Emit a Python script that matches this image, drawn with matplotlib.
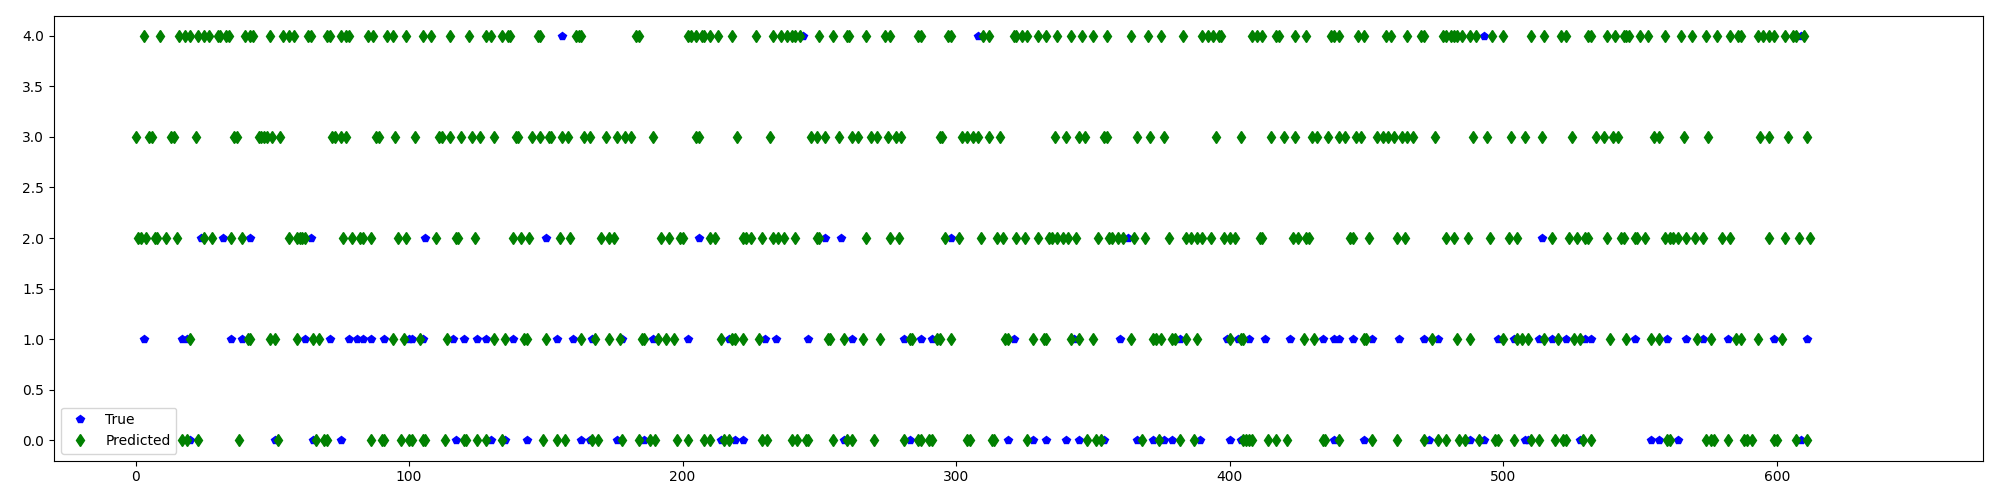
import matplotlib
matplotlib.use('Agg')
import matplotlib.pyplot as plt
import numpy as np

# indices (sample number) where the predicted class is shown, per class
pred_4 = [3, 9, 16, 18, 20, 23, 25, 27, 30, 31, 33, 34, 40, 42, 43, 49, 54, 56, 58,
          63, 64, 70, 71, 75, 77, 78, 85, 87, 92, 94, 99, 105, 108, 115, 122, 128,
          130, 134, 136, 137, 147, 148, 161, 162, 163, 183, 184, 202, 203, 205, 207,
          208, 210, 213, 218, 227, 233, 236, 238, 240, 241, 243, 250, 255, 260, 261,
          267, 274, 276, 286, 287, 297, 298, 310, 312, 321, 322, 324, 326, 330, 333,
          337, 342, 346, 350, 355, 364, 370, 375, 383, 390, 392, 394, 396, 397, 408,
          410, 412, 417, 418, 424, 428, 437, 438, 440, 447, 449, 457, 459, 465, 470,
          471, 478, 479, 481, 482, 483, 485, 488, 490, 496, 500, 510, 515, 521, 523,
          531, 532, 538, 541, 544, 545, 546, 550, 553, 559, 565, 569, 574, 578, 583,
          586, 587, 593, 595, 597, 599, 603, 606, 607, 610]
pred_3 = [0, 5, 6, 13, 14, 22, 36, 37, 45, 46, 47, 48, 50, 53, 72, 73, 75, 77, 88,
          89, 95, 102, 111, 112, 115, 119, 123, 126, 131, 139, 140, 145, 148, 151,
          152, 156, 158, 164, 166, 172, 176, 179, 181, 189, 205, 206, 220, 232, 247,
          249, 252, 257, 262, 264, 269, 271, 275, 278, 280, 294, 295, 302, 304, 306,
          308, 312, 316, 336, 340, 345, 347, 354, 355, 366, 371, 376, 395, 404, 415,
          420, 424, 430, 432, 436, 440, 442, 446, 448, 454, 456, 458, 460, 463, 465,
          467, 475, 489, 494, 503, 508, 514, 525, 534, 537, 540, 542, 555, 557, 566,
          575, 594, 597, 604, 611]
pred_2 = [1, 2, 4, 7, 8, 11, 15, 25, 28, 35, 39, 56, 59, 60, 61, 62, 76, 79, 82, 83,
          86, 96, 99, 110, 117, 118, 124, 138, 141, 144, 155, 159, 170, 173, 175, 192,
          195, 199, 200, 210, 212, 222, 223, 225, 229, 233, 235, 237, 241, 249, 250,
          267, 276, 279, 296, 301, 309, 315, 317, 322, 325, 330, 334, 335, 337, 339,
          341, 344, 352, 356, 357, 359, 361, 365, 369, 378, 384, 386, 388, 390, 393,
          398, 400, 402, 411, 412, 423, 425, 428, 429, 444, 445, 451, 461, 464, 479,
          482, 487, 495, 502, 505, 518, 524, 527, 530, 531, 538, 543, 544, 548, 549,
          552, 559, 561, 562, 564, 567, 570, 573, 580, 583, 597, 603, 608, 612]
pred_1 = [20, 41, 42, 49, 51, 59, 65, 67, 94, 98, 104, 114, 131, 135, 142, 143, 150,
          163, 168, 173, 177, 185, 186, 191, 194, 197, 214, 218, 219, 222, 228, 253,
          254, 259, 266, 272, 283, 284, 293, 294, 298, 318, 319, 328, 332, 333, 342,
          345, 350, 364, 372, 373, 375, 379, 380, 384, 388, 400, 404, 405, 427, 431,
          449, 450, 474, 483, 488, 500, 505, 507, 509, 515, 520, 526, 528, 539, 545,
          554, 557, 571, 576, 585, 587, 593, 602]
pred_0 = [17, 19, 23, 38, 52, 66, 69, 70, 86, 90, 91, 97, 100, 101, 105, 106, 113,
          120, 121, 125, 128, 134, 149, 154, 157, 167, 169, 178, 184, 188, 190, 198,
          202, 208, 210, 215, 217, 229, 231, 240, 242, 245, 246, 255, 260, 262, 270,
          281, 286, 287, 290, 291, 304, 305, 313, 314, 326, 348, 351, 353, 368, 374,
          382, 387, 405, 406, 407, 408, 414, 417, 421, 434, 435, 440, 452, 461, 471,
          476, 479, 484, 486, 491, 497, 498, 504, 510, 513, 519, 522, 523, 529, 532,
          560, 561, 574, 576, 577, 582, 588, 589, 591, 599, 600, 607, 611]

# indices where the true class differs from the prediction (blue visible)
true_4 = [156, 244, 308, 493, 609]
true_3 = []
true_2 = [24, 32, 42, 64, 106, 150, 206, 252, 258, 298, 363, 514]
true_1 = [3, 17, 19, 35, 39, 62, 71, 78, 81, 83, 86, 91, 100, 101, 105, 116, 120,
          125, 128, 138, 154, 160, 167, 178, 189, 202, 217, 230, 234, 246, 262, 281,
          287, 291, 321, 343, 360, 382, 399, 403, 407, 413, 422, 434, 438, 440, 445,
          452, 462, 471, 476, 498, 504, 513, 518, 523, 530, 532, 548, 560, 567, 573,
          582, 599, 611]
true_0 = [20, 51, 65, 75, 117, 130, 135, 143, 163, 166, 176, 186, 214, 219, 222, 259,
          283, 319, 328, 333, 340, 345, 354, 366, 372, 376, 379, 389, 400, 404, 438,
          449, 473, 488, 493, 508, 509, 528, 554, 557, 564, 609]

classes = [0, 1, 2, 3, 4]
pred_lists = [pred_0, pred_1, pred_2, pred_3, pred_4]
true_lists = [true_0, true_1, true_2, true_3, true_4]

x_true = np.concatenate([np.array(l, dtype=float) for l in true_lists])
y_true = np.concatenate([np.full(len(l), c, dtype=float) for c, l in zip(classes, true_lists)])
x_pred = np.concatenate([np.array(l, dtype=float) for l in pred_lists])
y_pred = np.concatenate([np.full(len(l), c, dtype=float) for c, l in zip(classes, pred_lists)])

fig, ax = plt.subplots(figsize=(20, 5), dpi=100)
ax.plot(x_true, y_true, 'bp', label='True')
ax.plot(x_pred, y_pred, 'gd', label='Predicted')
ax.set_xlim(-29.8, 675.4)
ax.set_ylim(-0.2, 4.2)
ax.set_xticks([0, 100, 200, 300, 400, 500, 600])
ax.set_yticks(np.arange(0, 4.01, 0.5))
ax.legend(loc='lower left')
fig.subplots_adjust(left=0.027, right=0.9915, top=0.969, bottom=0.079)
fig.savefig('out.png')
